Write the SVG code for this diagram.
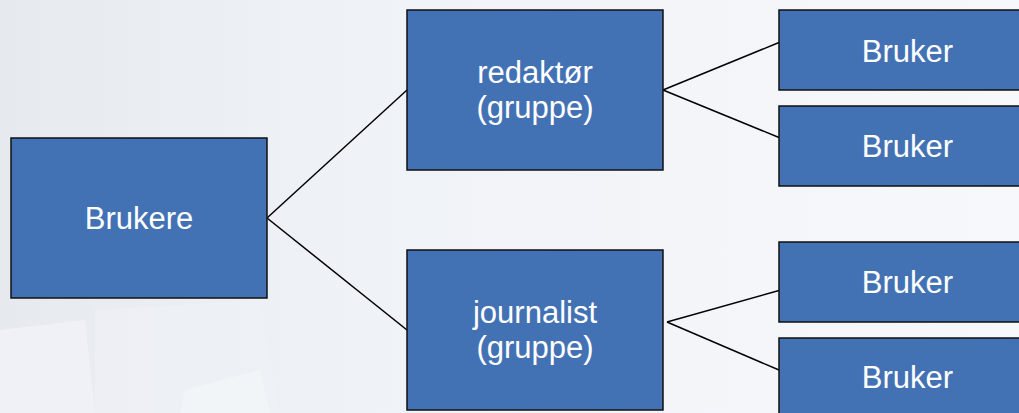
<svg xmlns="http://www.w3.org/2000/svg" width="1019" height="413" viewBox="0 0 1019 413">
<defs>
<linearGradient id="bg" x1="0" y1="0" x2="1" y2="0">
<stop offset="0" stop-color="#e6e9ee"/>
<stop offset="0.35" stop-color="#eff2f6"/>
<stop offset="1" stop-color="#f6f8fc"/>
</linearGradient>
<style>
.box{fill:#4372b4;stroke:#111;stroke-width:1.5}
.lbl{font-family:"Liberation Sans",Arial,sans-serif;font-size:31px;fill:#fff;text-anchor:middle}
.con{stroke:#000;stroke-width:1.5;fill:none}
</style>
</defs>
<rect width="1019" height="413" fill="url(#bg)"/>
<polygon points="0,330 85,320 95,413 0,413" fill="#f1f3f7" opacity="0.8"/>
<polygon points="95,310 260,300 280,413 95,413" fill="#eef1f5" opacity="0.7"/>
<polygon points="180,413 185,390 260,370 270,413" fill="#f4f6f9" opacity="0.7"/>
<g id="connectors">
<line class="con" x1="267" y1="218" x2="407" y2="90"/>
<line class="con" x1="267" y1="218" x2="407" y2="330"/>
<line class="con" x1="663" y1="90" x2="779" y2="42.5"/>
<line class="con" x1="663" y1="90" x2="779" y2="137.5"/>
<line class="con" x1="667" y1="322" x2="779" y2="290.5"/>
<line class="con" x1="667" y1="322" x2="779" y2="370"/>
</g>
<g id="brukere">
<rect class="box" x="11" y="138" width="256" height="160"/>
<text class="lbl" x="139" y="229">Brukere</text>
</g>
<g id="redaktor">
<rect class="box" x="407" y="10" width="256" height="160"/>
<text class="lbl" x="535" y="83">redaktør</text>
<text class="lbl" x="535" y="118">(gruppe)</text>
</g>
<g id="journalist">
<rect class="box" x="407" y="250" width="256" height="160"/>
<text class="lbl" x="535" y="323">journalist</text>
<text class="lbl" x="535" y="358">(gruppe)</text>
</g>
<g id="bruker1">
<rect class="box" x="779" y="10" width="257" height="80"/>
<text class="lbl" x="907.5" y="62">Bruker</text>
</g>
<g id="bruker2">
<rect class="box" x="779" y="106" width="257" height="80"/>
<text class="lbl" x="907.5" y="157">Bruker</text>
</g>
<g id="bruker3">
<rect class="box" x="779" y="242" width="257" height="80"/>
<text class="lbl" x="907.5" y="293">Bruker</text>
</g>
<g id="bruker4">
<rect class="box" x="779" y="338" width="257" height="80"/>
<text class="lbl" x="907.5" y="388">Bruker</text>
</g>
</svg>
